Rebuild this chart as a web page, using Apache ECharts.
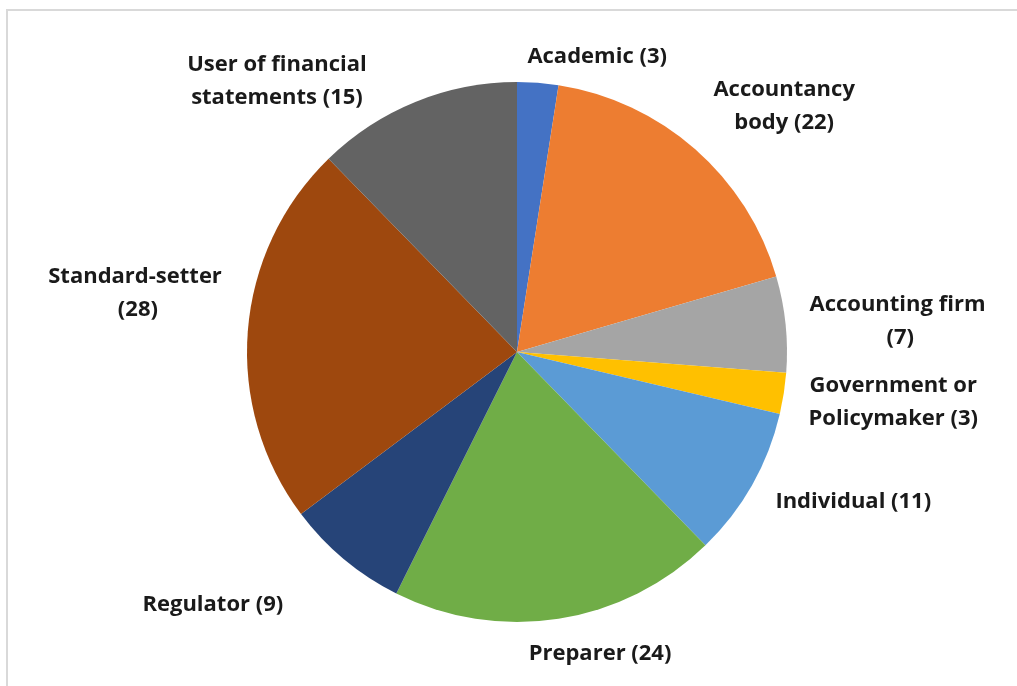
<!DOCTYPE html>
<html>
<head>
<meta charset="utf-8">
<script src="https://cdn.jsdelivr.net/npm/echarts@6/dist/echarts.min.js"></script>
<style>
  html, body { margin: 0; padding: 0; background: #fff; }
  #frame { position: absolute; left: 6px; top: 9px; width: 1020px; height: 690px;
           border-left: 2px solid #d9d9d9; border-top: 2px solid #d9d9d9; }
  #chart { position: absolute; left: 0; top: 0; width: 1017px; height: 686px; }
</style>
</head>
<body>
<div id="frame"></div>
<div id="chart"></div>
<script>
// 分类及数值
const categories = ['Academic', 'Accountancy\nbody', 'Accounting firm\n', 'Government or\nPolicymaker',
  'Individual', 'Preparer', 'Regulator', 'Standard-setter\n', 'User of financial\nstatements'];
const values = [3, 22, 7, 3, 11, 24, 9, 28, 15];
const colors = ['#4472C4', '#ED7D31', '#A5A5A5', '#FFC000', '#5B9BD5', '#70AD47', '#264478', '#9E480E', '#636363'];
// 标签微调 (Excel 的 best fit 位置)
const labelNudge = [[-17, -6], [0, -28], [-1, -1], [0, 6], [1, 7], [-38, 15], [-43, 30], [-1, -36], [-36, -2]];

const myChart = echarts.init(document.getElementById('chart'));

function buildData() {
  let result = [];
  for (let i = 0; i < categories.length; i++) {
    result.push({ name: categories[i], value: values[i], itemStyle: { color: colors[i] } });
  }
  return result;
}

myChart.setOption({
  animation: false,
  series: [
    {
      type: 'pie',
      center: [517, 352],
      radius: 270,
      startAngle: 90,
      clockwise: true,
      data: buildData(),
      itemStyle: { borderColor: '#fff', borderWidth: 0 },
      label: {
        show: true,
        position: 'outside',
        formatter: p => p.name + ' (' + p.value + ')',
        fontFamily: 'Open Sans',
        fontWeight: 'bold',
        fontSize: 22,
        lineHeight: 33,
        color: '#1a1a1a'
      },
      labelLine: { show: false, length: 20, length2: 0 },
      // 多行文字居中
      labelLayout: function (params) {
        const r = params.labelRect;
        const n = labelNudge[params.dataIndex];
        return {
          x: r.x + r.width / 2 + n[0],
          y: r.y + r.height / 2 + n[1],
          align: 'center',
          verticalAlign: 'middle'
        };
      }
    }
  ]
});
</script>
</body>
</html>
